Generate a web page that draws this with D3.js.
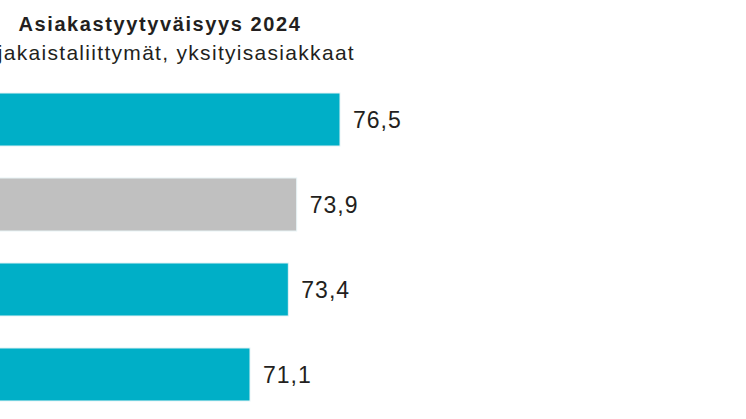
<!DOCTYPE html>
<html><head><meta charset="utf-8">
<script src="https://cdn.jsdelivr.net/npm/d3@7"></script>
<style>body{margin:0;background:#fff}svg{display:block}</style>
</head><body>
<svg id="chart" width="746" height="419"></svg>
<script>
// Customer satisfaction bars; the left end of the chart is cropped in the source image.
const categories = ["A", "B", "C", "D"];
const values = [76.5, 73.9, 73.4, 71.1];
const barColors = ["#00afc7", "#c0c0c0", "#00afc7", "#00afc7"];
const labels = ["76,5", "73,9", "73,4", "71,1"];

const svg = d3.select("#chart");
const font = "Liberation Sans, Arial, sans-serif";

const x = d3.scaleLinear().domain([56.1, 76.5]).range([0, 340]);
const y = d3.scaleBand().domain(categories).range([93, 401]).paddingInner(0.376).paddingOuter(0);

svg.append("text")
  .attr("x", 160).attr("y", 31)
  .attr("text-anchor", "middle")
  .attr("font-family", font)
  .attr("font-size", 20).attr("font-weight", "bold").attr("fill", "#231f20")
  .attr("letter-spacing", 1.6)
  .text("Asiakastyytyväisyys 2024");

svg.append("text")
  .attr("x", 355).attr("y", 60)
  .attr("text-anchor", "end")
  .attr("font-family", font)
  .attr("font-size", 21).attr("fill", "#231f20")
  .attr("letter-spacing", 1.3)
  .text("Kiinteät laajakaistaliittymät, yksityisasiakkaat");

svg.selectAll(".bar")
  .data(values)
  .join("rect")
  .attr("class", "bar")
  .attr("x", x(56.1) - 2)
  .attr("y", (d, i) => y(categories[i]))
  .attr("width", d => x(d) - x(56.1) + 2)
  .attr("height", y.bandwidth())
  .attr("fill", (d, i) => barColors[i])
  .attr("stroke", "#e8f4f6").attr("stroke-width", 1);

svg.selectAll(".val")
  .data(values)
  .join("text")
  .attr("class", "val")
  .attr("x", d => x(d) + 13)
  .attr("y", (d, i) => y(categories[i]) + y.bandwidth() / 2)
  .attr("dy", "0.35em")
  .attr("font-family", font)
  .attr("font-size", 23).attr("fill", "#231f20")
  .attr("letter-spacing", 1)
  .text((d, i) => labels[i]);
</script>
</body></html>
